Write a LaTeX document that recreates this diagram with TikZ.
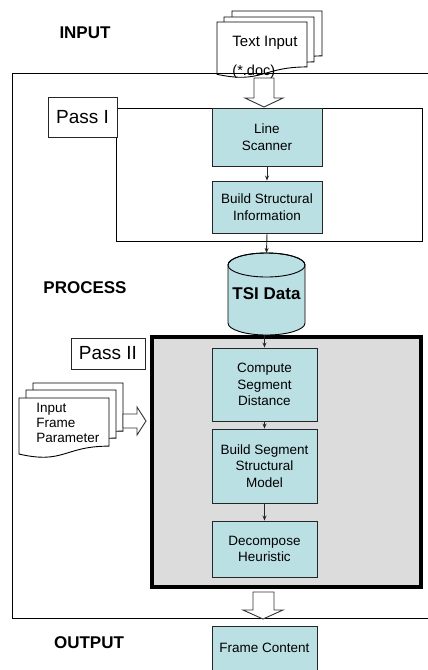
\documentclass[tikz,border=0pt]{standalone}
\usepackage{fontspec}
\setmainfont{Liberation Sans}
\usepackage{xcolor}
\usetikzlibrary{arrows.meta}

\definecolor{boxcyan}{RGB}{187,224,228}
\definecolor{passgray}{RGB}{220,220,220}

% page with wavy bottom: x, y, width, height
\newcommand{\docsheet}[4]{%
  \draw[fill=white] (#1,#2) -- ({#1+#3},#2) -- ({#1+#3},{#2+0.802*#4})
    .. controls ({#1+0.5*#3},{#2+0.802*#4}) and ({#1+0.5*#3},{#2+1.107*#4}) .. (#1,{#2+0.934*#4}) -- cycle;}

\tikzset{
  procbox/.style={draw=black!85, fill=boxcyan, minimum width=#1, inner sep=0pt, align=center,
    font=\fontsize{13.5}{16.5}\selectfont},
  procbox/.default=110pt,
  passlabel/.style={draw=black!85, fill=white, inner sep=0pt, font=\fontsize{19}{22}\selectfont},
  phase/.style={inner sep=0pt, font=\bfseries\fontsize{17}{20}\selectfont},
  flowarrow/.style={-{Stealth[length=5pt,width=4pt]}, black!85},
  hollow/.style={draw=black!80, fill=white},
}

\begin{document}
\begin{tikzpicture}[x=1pt,y=1pt,yscale=-1,xscale=1,line width=0.9pt]
\useasboundingbox (0,0) rectangle (428,670);

%Shape: Rectangle (Pass II frame)
\draw [line width=4pt, fill=passgray]  (152,337) rectangle (421,587) ;
%Shape: Rectangle (Pass I frame)
\draw   (116,108) rectangle (422,241) ;

%Shape: Documents (text input)
\docsheet{232}{11}{90}{56}
\docsheet{224}{17}{90}{56}
\docsheet{217}{22}{90}{56}
%Shape: Documents (frame parameter)
\docsheet{33}{383}{90}{60}
\docsheet{26}{390}{90}{60}
\docsheet{19}{398}{90}{60}

%Straight Lines (outer frame, open to the right)
\draw    (428,73) -- (12,73) -- (12,618) -- (428,618) ;

%Shape: Hollow arrows
\draw [hollow] (254,78) -- (274,78) -- (274,98) -- (283,98) -- (264,107) -- (245,98) -- (254,98) -- cycle ;
\draw [hollow] (253,592) -- (274,592) -- (274,610) -- (283,610) -- (263,619) -- (243,610) -- (253,610) -- cycle ;
\draw [hollow] (123,414) -- (137,414) -- (137,407) -- (146,421) -- (137,435) -- (137,428) -- (123,428) -- cycle ;

%Shape: Can (TSI data)
\draw [fill=boxcyan] (228,265) -- (228,323) arc (180:0:38.5 and 12) -- (305,265) arc (0:-180:38.5 and 12) -- cycle ;
\draw   (266.5,265) ellipse (38.5 and 12) ;
\coordinate (tsitop) at (266.5,253) ;
\coordinate (tsibot) at (266.5,335) ;

% Text Node
\draw (85,33) node (input) [phase] {INPUT};
% Text Node
\draw (85,288) node (process) [phase] {PROCESS};
% Text Node
\draw (89,643) node (output) [phase] {OUTPUT};
% Text Node
\draw (266.5,294) node (tsi) [phase] {TSI Data};
% Text Node
\draw (232,43) node (textin) [anchor=west][inner sep=0pt][font=\fontsize{15}{17}\selectfont] {Text Input};
\draw (232,72) node (textext) [anchor=west][inner sep=0pt][font=\fontsize{14.5}{17}\selectfont] {(*.doc)};
% Text Node
\draw (36,423) node (frameparam) [anchor=west][inner sep=0pt][align=left][font=\fontsize{13.5}{15}\selectfont] {Input\\Frame\\Parameter};

% Pass labels
\draw (82.5,117) node (passone) [passlabel, minimum width=69pt, minimum height=40pt] {Pass I};
\draw (108,353.5) node (passtwo) [passlabel, minimum width=74pt, minimum height=31pt] {Pass II};

% Process boxes
\draw (267,137) node (scanner) [procbox, minimum height=58pt] {Line\\Scanner};
\draw (267,207) node (buildinfo) [procbox, minimum height=52pt] {Build Structural\\Information};
\draw (264.5,384.5) node (compute) [procbox=105pt, minimum height=73pt] {Compute\\Segment\\Distance};
\draw (264.5,466) node (buildmodel) [procbox=105pt, minimum height=74pt] {Build Segment\\Structural\\Model};
\draw (264.5,549) node (decompose) [procbox=105pt, minimum height=56pt] {Decompose\\Heuristic};
\draw (264.5,648) node (framecontent) [procbox=105pt, minimum height=44pt] {Frame Content};

%Straight Lines (flow)
\draw [flowarrow] (scanner) -- (buildinfo) ;
\draw [flowarrow] (buildinfo.south) -- (tsitop) ;
\draw [flowarrow] (compute.north |- tsibot) -- (compute.north) ;
\draw [flowarrow] (compute) -- (buildmodel) ;
\draw [flowarrow] (buildmodel) -- (decompose) ;

\end{tikzpicture}
\end{document}
